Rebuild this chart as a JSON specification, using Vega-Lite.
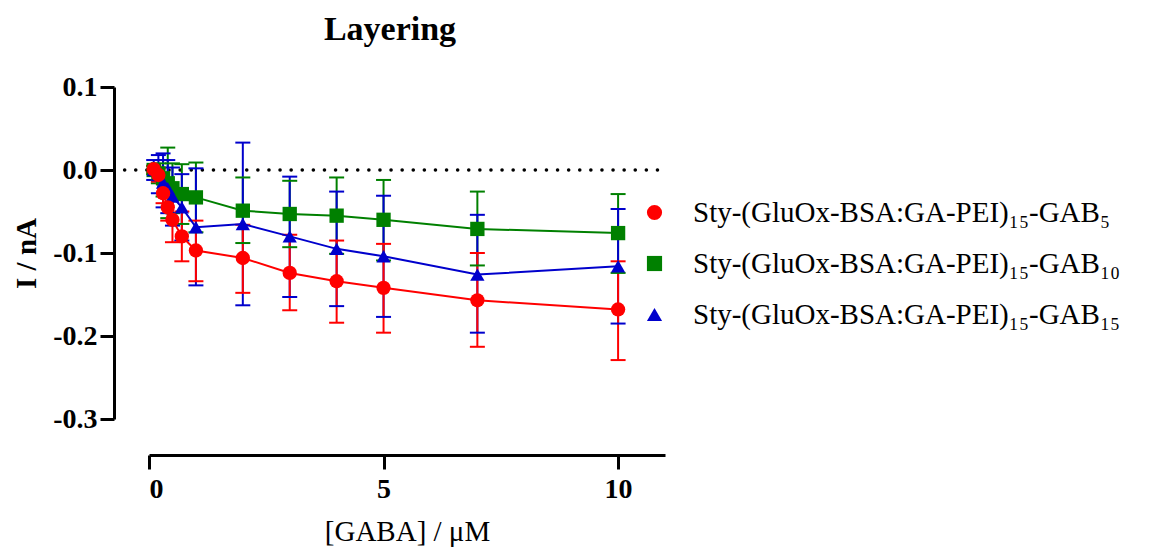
{
  "$schema": "https://vega.github.io/schema/vega-lite/v6.json",
  "width": 516,
  "height": 332,
  "autosize": "none",
  "padding": {"left": 149, "top": 87, "right": 488, "bottom": 132},
  "background": "white",
  "title": {
    "text": "Layering",
    "font": "Liberation Serif",
    "fontSize": 34,
    "fontWeight": "bold",
    "color": "black",
    "anchor": "middle",
    "frame": "group",
    "dx": -17,
    "offset": -1,
    "baseline": "alphabetic"
  },
  "config": {
    "view": {"stroke": null},
    "font": "Liberation Serif",
    "axis": {"grid": false}
  },
  "datasets": {
    "pts": [
      {"series": "GAB10", "x": 0.1, "y": 0.000, "lo": -0.005, "hi": 0.005},
      {"series": "GAB10", "x": 0.2, "y": -0.004, "lo": -0.016, "hi": 0.008},
      {"series": "GAB10", "x": 0.3, "y": -0.010, "lo": -0.032, "hi": 0.012},
      {"series": "GAB10", "x": 0.4, "y": -0.016, "lo": -0.058, "hi": 0.027},
      {"series": "GAB10", "x": 0.5, "y": -0.022, "lo": -0.052, "hi": 0.008},
      {"series": "GAB10", "x": 0.7, "y": -0.029, "lo": -0.065, "hi": 0.007},
      {"series": "GAB10", "x": 1, "y": -0.033, "lo": -0.075, "hi": 0.009},
      {"series": "GAB10", "x": 2, "y": -0.049, "lo": -0.088, "hi": -0.009},
      {"series": "GAB10", "x": 3, "y": -0.053, "lo": -0.093, "hi": -0.013},
      {"series": "GAB10", "x": 4, "y": -0.055, "lo": -0.101, "hi": -0.009},
      {"series": "GAB10", "x": 5, "y": -0.060, "lo": -0.109, "hi": -0.012},
      {"series": "GAB10", "x": 7, "y": -0.071, "lo": -0.115, "hi": -0.026},
      {"series": "GAB10", "x": 10, "y": -0.076, "lo": -0.124, "hi": -0.029},
      {"series": "GAB15", "x": 0.1, "y": 0.000, "lo": -0.012, "hi": 0.012},
      {"series": "GAB15", "x": 0.2, "y": -0.006, "lo": -0.028, "hi": 0.018},
      {"series": "GAB15", "x": 0.3, "y": -0.015, "lo": -0.045, "hi": 0.020},
      {"series": "GAB15", "x": 0.4, "y": -0.022, "lo": -0.052, "hi": 0.012},
      {"series": "GAB15", "x": 0.5, "y": -0.032, "lo": -0.067, "hi": 0.003},
      {"series": "GAB15", "x": 0.7, "y": -0.045, "lo": -0.085, "hi": -0.005},
      {"series": "GAB15", "x": 1, "y": -0.069, "lo": -0.139, "hi": 0.002},
      {"series": "GAB15", "x": 2, "y": -0.065, "lo": -0.163, "hi": 0.033},
      {"series": "GAB15", "x": 3, "y": -0.080, "lo": -0.153, "hi": -0.008},
      {"series": "GAB15", "x": 4, "y": -0.095, "lo": -0.164, "hi": -0.026},
      {"series": "GAB15", "x": 5, "y": -0.104, "lo": -0.177, "hi": -0.031},
      {"series": "GAB15", "x": 7, "y": -0.126, "lo": -0.196, "hi": -0.054},
      {"series": "GAB15", "x": 10, "y": -0.116, "lo": -0.185, "hi": -0.047},
      {"series": "GAB5", "x": 0.1, "y": 0.001, "lo": -0.003, "hi": 0.005},
      {"series": "GAB5", "x": 0.2, "y": -0.006, "lo": -0.014, "hi": 0.002},
      {"series": "GAB5", "x": 0.3, "y": -0.028, "lo": -0.040, "hi": -0.016},
      {"series": "GAB5", "x": 0.4, "y": -0.045, "lo": -0.061, "hi": -0.029},
      {"series": "GAB5", "x": 0.5, "y": -0.060, "lo": -0.087, "hi": -0.033},
      {"series": "GAB5", "x": 0.7, "y": -0.080, "lo": -0.110, "hi": -0.050},
      {"series": "GAB5", "x": 1, "y": -0.097, "lo": -0.134, "hi": -0.061},
      {"series": "GAB5", "x": 2, "y": -0.106, "lo": -0.148, "hi": -0.066},
      {"series": "GAB5", "x": 3, "y": -0.124, "lo": -0.169, "hi": -0.078},
      {"series": "GAB5", "x": 4, "y": -0.134, "lo": -0.184, "hi": -0.085},
      {"series": "GAB5", "x": 5, "y": -0.142, "lo": -0.196, "hi": -0.089},
      {"series": "GAB5", "x": 7, "y": -0.157, "lo": -0.213, "hi": -0.100},
      {"series": "GAB5", "x": 10, "y": -0.168, "lo": -0.229, "hi": -0.110}
    ],
    "zero": [{"x0": -0.52, "x1": 10.9, "y": 0}]
  },
  "layer": [
    {
      "data": {"name": "zero"},
      "mark": {"type": "rule", "color": "black", "strokeWidth": 3.5, "strokeDash": [0.1, 11], "strokeCap": "round"},
      "encoding": {
        "x": {"field": "x0", "type": "quantitative", "scale": {"domain": [0, 11], "nice": false, "zero": false}},
        "x2": {"field": "x1"},
        "y": {"field": "y", "type": "quantitative"}
      }
    },
    {
      "data": {"name": "pts"},
      "mark": {"type": "rule", "strokeWidth": 2},
      "encoding": {
        "x": {"field": "x", "type": "quantitative"},
        "y": {"field": "lo", "type": "quantitative"},
        "y2": {"field": "hi"},
        "stroke": {"field": "series", "type": "nominal", "scale": {"range": ["#008000", "#0000CC", "#FF0000"]}, "legend": null}
      }
    },
    {
      "data": {"name": "pts"},
      "mark": {"type": "tick", "orient": "horizontal", "size": 15, "thickness": 2, "opacity": 1},
      "encoding": {
        "x": {"field": "x", "type": "quantitative"},
        "y": {"field": "lo", "type": "quantitative"},
        "fill": {"field": "series", "type": "nominal", "scale": {"range": ["#008000", "#0000CC", "#FF0000"]}, "legend": null}
      }
    },
    {
      "data": {"name": "pts"},
      "mark": {"type": "tick", "orient": "horizontal", "size": 15, "thickness": 2, "opacity": 1},
      "encoding": {
        "x": {"field": "x", "type": "quantitative"},
        "y": {"field": "hi", "type": "quantitative"},
        "fill": {"field": "series", "type": "nominal", "legend": null}
      }
    },
    {
      "data": {"name": "pts"},
      "mark": {"type": "line", "strokeWidth": 2},
      "encoding": {
        "x": {"field": "x", "type": "quantitative"},
        "y": {"field": "y", "type": "quantitative"},
        "stroke": {"field": "series", "type": "nominal", "legend": null},
        "order": {"field": "x"}
      }
    },
    {
      "data": {"name": "pts"},
      "mark": {"type": "point", "filled": true, "opacity": 1, "size": 205},
      "encoding": {
        "x": {"field": "x", "type": "quantitative"},
        "y": {"field": "y", "type": "quantitative"},
        "color": {
          "field": "series", "type": "nominal",
          "scale": {"domain": ["GAB5", "GAB10", "GAB15"], "range": ["#FF0000", "#008000", "#0000CC"]},
          "legend": {
            "title": null,
            "orient": "none",
            "legendX": 491,
            "legendY": 111,
            "symbolSize": 230,
            "symbolOpacity": 1,
            "labelFont": "Liberation Serif",
            "labelFontSize": 29,
            "labelColor": "black",
            "labelOffset": 24,
            "labelLimit": 600,
            "rowPadding": 21,
            "labelExpr": "datum.label == 'GAB5' ? 'Sty-(GluOx-BSA:GA-PEI)₁₅-GAB₅' : datum.label == 'GAB10' ? 'Sty-(GluOx-BSA:GA-PEI)₁₅-GAB₁₀' : 'Sty-(GluOx-BSA:GA-PEI)₁₅-GAB₁₅'"
          }
        },
        "shape": {
          "field": "series", "type": "nominal",
          "scale": {"domain": ["GAB5", "GAB10", "GAB15"], "range": ["circle", "square", "triangle-up"]},
          "legend": {
            "title": null,
            "orient": "none",
            "legendX": 491,
            "legendY": 111,
            "symbolSize": 230,
            "symbolOpacity": 1,
            "labelFont": "Liberation Serif",
            "labelFontSize": 29,
            "labelColor": "black",
            "labelOffset": 24,
            "labelLimit": 600,
            "rowPadding": 21,
            "labelExpr": "datum.label == 'GAB5' ? 'Sty-(GluOx-BSA:GA-PEI)₁₅-GAB₅' : datum.label == 'GAB10' ? 'Sty-(GluOx-BSA:GA-PEI)₁₅-GAB₁₀' : 'Sty-(GluOx-BSA:GA-PEI)₁₅-GAB₁₅'"
          }
        }
      }
    }
  ],
  "encoding": {
    "x": {
      "axis": {
        "title": "[GABA] / μM",
        "values": [0, 5, 10],
        "offset": 36,
        "domainColor": "black",
        "domainWidth": 3,
        "tickColor": "black",
        "tickWidth": 3,
        "tickSize": 14,
        "labelFont": "Liberation Serif",
        "labelFontSize": 28,
        "labelFontWeight": "bold",
        "labelColor": "black",
        "labelPadding": 6,
        "titleFont": "Liberation Serif",
        "titleFontSize": 29,
        "titleFontWeight": "normal",
        "titleColor": "black",
        "titlePadding": 14
      }
    },
    "y": {
      "scale": {"domain": [-0.3, 0.1], "nice": false, "zero": false},
      "axis": {
        "title": "I / nA",
        "values": [-0.3, -0.2, -0.1, 0, 0.1],
        "labelExpr": "replace(format(datum.value, '.1f'), '−', '-')",
        "offset": 35,
        "domainColor": "black",
        "domainWidth": 3,
        "tickColor": "black",
        "tickWidth": 3,
        "tickSize": 14,
        "labelFont": "Liberation Serif",
        "labelFontSize": 28,
        "labelFontWeight": "bold",
        "labelColor": "black",
        "labelPadding": 3,
        "titleFont": "Liberation Serif",
        "titleFontSize": 29,
        "titleFontWeight": "bold",
        "titleColor": "black",
        "titlePadding": 11
      }
    }
  }
}
